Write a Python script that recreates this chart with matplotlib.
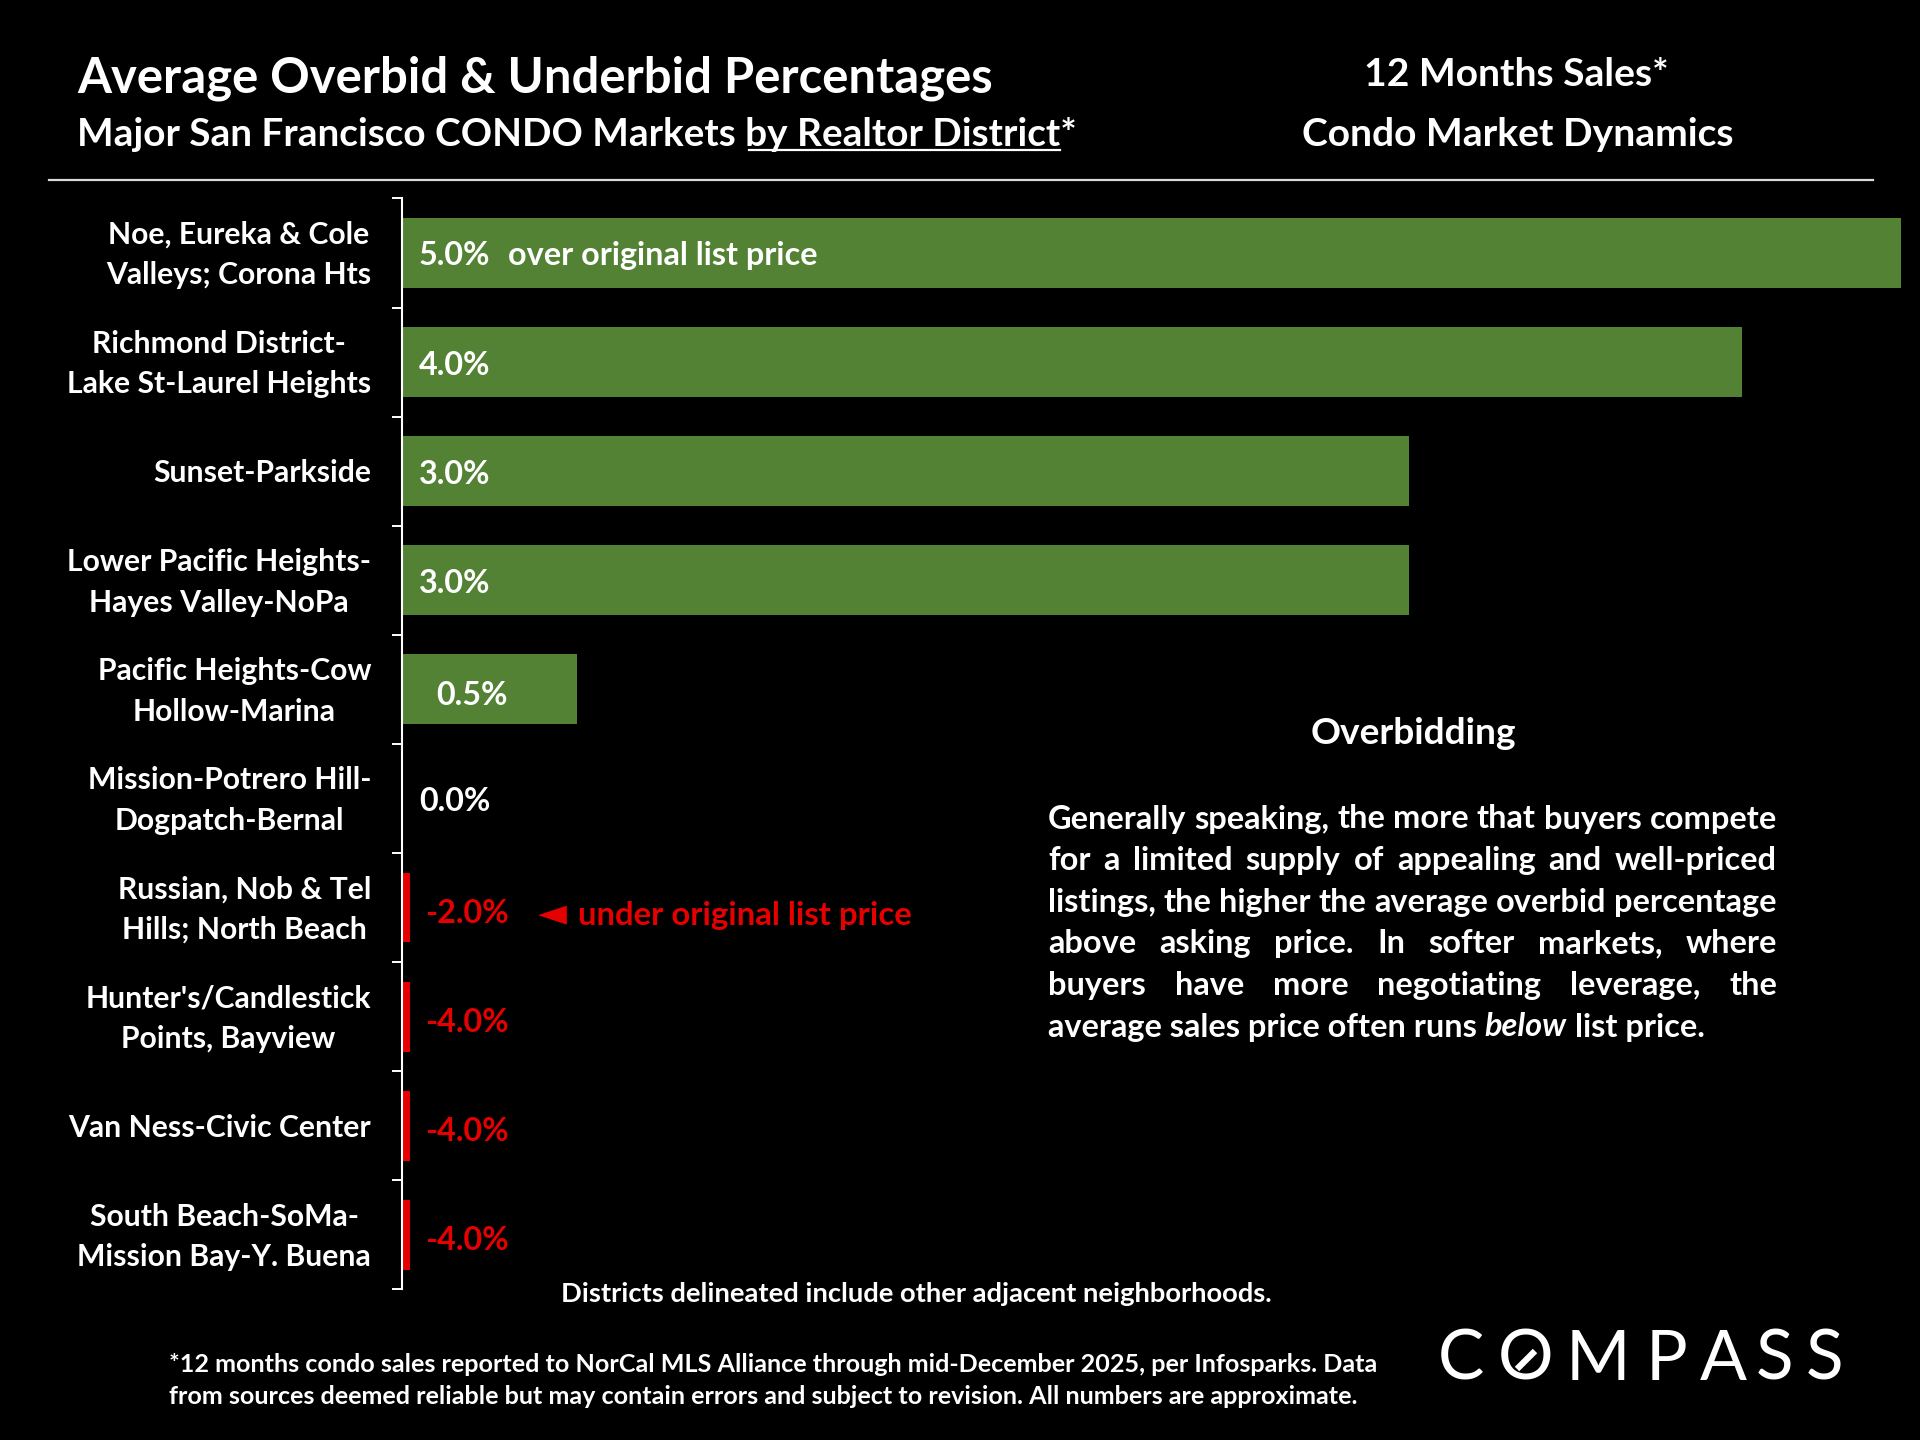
import numpy as np
from matplotlib import pyplot as plt

plt.rcParams['font.family'] = ['Lato', 'DejaVu Sans']
plt.rcParams['font.weight'] = 'bold'

# Data
districts = ['Noe, Eureka & Cole\nValleys; Corona Hts',
             'Richmond District-\nLake St-Laurel Heights',
             'Sunset-Parkside',
             'Lower Pacific Heights-\nHayes Valley-NoPa',
             'Pacific Heights-Cow\nHollow-Marina',
             'Mission-Potrero Hill-\nDogpatch-Bernal',
             'Russian, Nob & Tel\nHills; North Beach',
             "Hunter's/Candlestick\nPoints, Bayview",
             'Van Ness-Civic Center',
             'South Beach-SoMa-\nMission Bay-Y. Buena']
overbid = [5.0, 4.0, 3.0, 3.0, 0.5, 0.0, -2.0, -4.0, -4.0, -4.0]

paragraph = ['Generally speaking, the more that buyers compete',
             'for a limited supply of appealing and well-priced',
             'listings, the higher the average overbid percentage',
             'above asking price. In softer markets, where',
             'buyers have more negotiating leverage, the']
last_line = [('average sales price often runs ', 'normal'), ('below', 'italic'), (' list price.', 'normal')]

GREEN = '#548235'
RED = '#e60000'
W, H = 1920, 1440
XMIN, XMAX = -0.0258, 4.475


def fx(x):
    return x / W


def fy(y):
    return 1 - y / H


fig = plt.figure(figsize=(19.2, 14.4), dpi=100, facecolor='black')
renderer = fig.canvas.get_renderer()


def width_of(t):
    return t.get_window_extent(renderer).width


def fit(t, target):
    t.set_fontsize(t.get_fontsize() * target / width_of(t))
    return t.get_fontsize()


# Headers
title = fig.text(fx(77), fy(78), 'Average Overbid & Underbid Percentages', color='white',
                 fontsize=32, ha='left', va='center')
fit(title, 916)
sub_pre = 'Major San Francisco CONDO Markets '
sub = fig.text(fx(77), fy(134), sub_pre + 'by Realtor District*', color='white',
               fontsize=26, ha='left', va='center')
sub_size = fit(sub, 1002)
t1 = fig.text(0, 0, sub_pre, fontsize=sub_size)
t2 = fig.text(0, 0, sub_pre + 'by Realtor District', fontsize=sub_size)
u0 = 77 + width_of(t1) + 4
u1 = 77 + width_of(t2)
t1.remove()
t2.remove()
fig.add_artist(plt.Line2D([fx(u0), fx(u1)], [fy(150), fy(150)], color='white', lw=1.6))

rt = fig.text(fx(1518), fy(135), 'Condo Market Dynamics', color='white', fontsize=26,
              ha='center', va='center')
rsize = fit(rt, 432)
fig.text(fx(1516), fy(75), '12 Months Sales*', color='white', fontsize=rsize, ha='center', va='center')

fig.add_artist(plt.Line2D([fx(49), fx(1873)], [fy(180), fy(180)], color='#d9d9d9', lw=1.6))

# Bar chart
ax = fig.add_axes([fx(401.6), fy(1289.4), (1900.5 - 401.6) / W, (1289.4 - 198.4) / H])
ax.set_facecolor('black')
ypos = np.arange(len(districts))
colors = [GREEN if v >= 0 else RED for v in overbid]
# positive bars start at the axis, negative ones run off the left edge and show as slivers
lefts = [XMIN if v > 0 else 0 for v in overbid]
ax.barh(ypos, [v - l for v, l in zip(overbid, lefts)], left=lefts, height=0.64, color=colors)
ax.set_xlim(XMIN, XMAX)
ax.set_ylim(len(districts) - 0.5, -0.5)
for s in ['top', 'right', 'bottom']:
    ax.spines[s].set_visible(False)
ax.spines['left'].set_color('white')
ax.spines['left'].set_linewidth(1.5)
ax.set_xticks([])
ax.set_yticks(ypos, [''] * len(districts))
ax.set_yticks(np.arange(-0.5, len(districts), 1), minor=True)
ax.tick_params(axis='y', which='major', length=0)
ax.tick_params(axis='y', which='minor', length=7, width=1.4, color='white')

probe = fig.text(0, 0, 'Lake St-Laurel Heights', fontsize=20)
cat_size = fit(probe, 304)
probe.remove()
for i, name in enumerate(districts):
    ax.annotate(name, (0, i), xycoords=('axes fraction', 'data'), xytext=(-30.6 * 0.72, -1.5),
                textcoords='offset points', ha='right', va='center', multialignment='center',
                color='white', fontsize=cat_size, linespacing=1.55, annotation_clip=False)

val_size = cat_size * 1.075
for i, v in enumerate(overbid):
    off = 15 if v < 0 else (26 if 0 < v < 1 else 8.6)
    drop = 6 if v < 0 or 0 < v < 1 else 3
    ax.annotate(f'{v:.1f}%', (0, i), xytext=(off * 0.72, -drop * 0.72), textcoords='offset points',
                ha='left', va='center', color='white' if v >= 0 else RED, fontsize=val_size,
                annotation_clip=False)

fig.text(fx(508), fy(256), 'over original list price', color='white', fontsize=val_size,
         ha='left', va='center')
fig.text(fx(552), fy(914), '\u25c4', color=RED, fontsize=cat_size * 1.25, ha='center', va='center',
         family='DejaVu Sans')
fig.text(fx(578), fy(916), 'under original list price', color=RED, fontsize=cat_size * 1.09,
         ha='left', va='center')

# Right-hand commentary
probe = fig.text(0, 0, paragraph[0], fontsize=20)
para_size = fit(probe, 729)
probe.remove()
fig.text(fx(1413), fy(733), 'Overbidding', color='white', fontsize=para_size * 1.14,
         ha='center', va='center')

px0, px1 = 1048, 1777
ly = 819
for line in paragraph:
    words = line.split()
    arts = [fig.text(0, fy(ly), w_, color='white', fontsize=para_size, ha='left', va='center')
            for w_ in words]
    widths = [width_of(a) for a in arts]
    gap = (px1 - px0 - sum(widths)) / (len(words) - 1)
    x = px0
    for a, w_ in zip(arts, widths):
        a.set_x(fx(x))
        x += w_ + gap
    ly += 41.6

a = fig.text(0, 0, 'a a', fontsize=para_size)
b = fig.text(0, 0, 'aa', fontsize=para_size)
space = width_of(a) - width_of(b)
a.remove()
b.remove()
x = px0
for part, style in last_line:
    if part.startswith(' '):
        x += space
    t = fig.text(fx(x), fy(ly), part.strip(), color='white', fontsize=para_size, style=style,
                 ha='left', va='center')
    x += width_of(t)
    if part.endswith(' '):
        x += space

# Notes
note = fig.text(fx(916), fy(1294), 'Districts delineated include other adjacent neighborhoods.',
                color='white', fontsize=17, ha='center', va='center')
fit(note, 714)
foot1 = '*12 months condo sales reported to NorCal MLS Alliance through mid-December 2025, per Infosparks. Data'
foot2 = 'from sources deemed reliable but may contain errors and subject to revision. All numbers are approximate.'
f1 = fig.text(fx(169), fy(1365), foot1, color='white', fontsize=16, ha='left', va='center')
fsize = fit(f1, 1212)
fig.text(fx(169), fy(1397), foot2, color='white', fontsize=fsize, ha='left', va='center')

# Logo
letters = ['C', 'O', 'M', 'P', 'A', 'S', 'S']
centers = [1461, 1526, 1598, 1667, 1723, 1775, 1825]
for ch, cx in zip(letters, centers):
    fig.text(fx(cx), fy(1360), ch, color='white', fontsize=50, fontweight='normal',
             ha='center', va='center')
fig.add_artist(plt.Line2D([fx(1517), fx(1535)], [fy(1369), fy(1351)], color='white', lw=4.5,
                          solid_capstyle='butt'))

fig.savefig('out.png', dpi=100, facecolor='black')
